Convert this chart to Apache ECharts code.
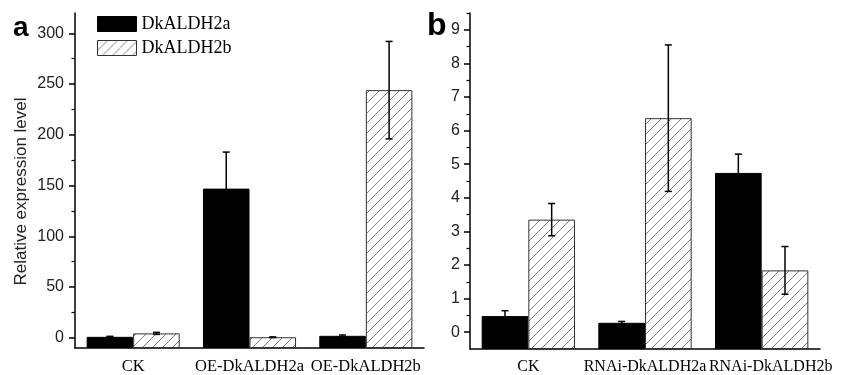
<!DOCTYPE html>
<html>
<head>
<meta charset="utf-8">
<script src="https://cdn.jsdelivr.net/npm/echarts@6/dist/echarts.min.js"></script>
<style>
  html, body { margin: 0; padding: 0; background: #fff; }
  #chart { width: 845px; height: 375px; }
</style>
</head>
<body>
<div id="chart"></div>
<script>
// panel a
const catsA = ["CK", "OE-DkALDH2a", "OE-DkALDH2b"];
const aVals = [1, 147, 2];
const aErr = [0.5, 36, 0.8];
const bValsA = [4.4, 0.6, 244];
const bErrA = [1, 0.3, 48];
const ticksA = [0, 50, 100, 150, 200, 250, 300];
const minorA = [25, 75, 125, 175, 225, 275];

// panel b
const catsB = ["CK", "RNAi-DkALDH2a", "RNAi-DkALDH2b"];
const aValsB = [0.48, 0.28, 4.74];
const aErrB = [0.16, 0.04, 0.56];
const bValsB = [3.35, 6.37, 1.84];
const bErrB = [0.48, 2.18, 0.71];
const ticksB = [0, 1, 2, 3, 4, 5, 6, 7, 8, 9];
const minorB = [0.5, 1.5, 2.5, 3.5, 4.5, 5.5, 6.5, 7.5, 8.5, 9.5];

const serif = "Liberation Serif";
const sans = "Liberation Sans";

function hatch() {
  const c = document.createElement("canvas");
  c.width = c.height = 10;
  const g = c.getContext("2d");
  g.fillStyle = "#fff";
  g.fillRect(0, 0, 10, 10);
  g.strokeStyle = "#808080";
  g.lineWidth = 1;
  g.beginPath();
  g.moveTo(0, 10); g.lineTo(10, 0);
  g.moveTo(-5, 5); g.lineTo(5, -5);
  g.moveTo(5, 15); g.lineTo(15, 5);
  g.stroke();
  return c;
}
const hatchFill = { image: hatch(), repeat: "repeat" };

function errData(vals, errs) {
  return vals.map((v, i) => [i, v, errs[i]]);
}

// offset = fraction of band width from category center
function errRender(offset) {
  return function (params, api) {
    const x = api.value(0), v = api.value(1), e = api.value(2);
    const hi = api.coord([x, v + e]);
    const lo = api.coord([x, v - e]);
    const bw = api.size([1, 0])[0];
    const cx = hi[0] + offset * bw;
    const st = { stroke: "#000", lineWidth: 1.5 };
    return {
      type: "group",
      children: [
        { type: "line", shape: { x1: cx, y1: hi[1], x2: cx, y2: lo[1] }, style: st },
        { type: "line", shape: { x1: cx - 3.5, y1: hi[1], x2: cx + 3.5, y2: hi[1] }, style: st },
        { type: "line", shape: { x1: cx - 3.5, y1: lo[1], x2: cx + 3.5, y2: lo[1] }, style: st },
      ],
    };
  };
}

function xAxes(cats, grid, fontSize, lastShift) {
  return [
    {
      type: "category", gridIndex: grid, data: cats, position: "bottom",
      axisLine: { onZero: false, lineStyle: { color: "#000", width: 1.5 } },
      axisTick: { length: 5, lineStyle: { color: "#000", width: 1.5 } },
      axisLabel: {
        color: "#000", fontFamily: serif, fontSize: fontSize, margin: 10, interval: 0,
        formatter: (v, i) => (i === cats.length - 1 && lastShift ? "{r|" + v + "}" : v),
        rich: { r: { fontFamily: serif, fontSize: fontSize, color: "#000", padding: [0, 0, 0, lastShift * 2] } },
      },
      splitLine: { show: false },
    },
    {
      type: "category", gridIndex: grid, data: cats, position: "bottom",
      axisLine: { show: false, onZero: false },
      axisTick: { alignWithLabel: true, length: 5, lineStyle: { color: "#000", width: 1.5 } },
      axisLabel: { show: false },
      splitLine: { show: false },
    },
  ];
}

function yAxes(min, max, ticks, minor, grid, margin) {
  return [
    {
      type: "value", gridIndex: grid, min: min, max: max, startValue: min, position: "left",
      axisLine: { show: true, lineStyle: { color: "#000", width: 1.5 } },
      axisTick: { show: true, length: 6, customValues: ticks, lineStyle: { color: "#000", width: 1.5 } },
      axisLabel: { customValues: ticks, color: "#222", fontFamily: sans, fontSize: 16, margin: margin },
      splitLine: { show: false },
    },
    {
      type: "value", gridIndex: grid, min: min, max: max, position: "left",
      axisLine: { show: false },
      axisTick: { show: true, length: 3.5, customValues: minor, lineStyle: { color: "#000", width: 1.2 } },
      axisLabel: { show: false },
      splitLine: { show: false },
    },
  ];
}

const yA = yAxes(-10, 320, ticksA, minorA, 0, 11);
yA[0].name = "Relative expression level";
yA[0].nameLocation = "middle";
yA[0].nameGap = 45;
yA[0].nameTextStyle = { fontFamily: sans, fontSize: 17, color: "#222", padding: [0, 22, 0, 0] };

const blackStyle = { color: "#000", borderColor: "#000", borderWidth: 1 };
const hatchStyle = { color: hatchFill, borderColor: "#333", borderWidth: 1 };

const chart = echarts.init(document.getElementById("chart"));
chart.setOption({
  animation: false,
  backgroundColor: "#fff",
  title: [
    { text: "a", left: 13, top: 14, padding: 0, textStyle: { fontFamily: sans, fontWeight: "bold", fontSize: 28, color: "#000" } },
    { text: "b", left: 427, top: 10, padding: 0, textStyle: { fontFamily: sans, fontWeight: "bold", fontSize: 32, color: "#000" } },
  ],
  legend: {
    left: 97, top: 15, orient: "vertical", padding: 0, itemGap: 6,
    itemWidth: 39, itemHeight: 15,
    textStyle: { fontFamily: serif, fontSize: 18, color: "#000" },
    data: [
      { name: "DkALDH2a", icon: "rect", itemStyle: blackStyle },
      { name: "DkALDH2b", icon: "rect", itemStyle: hatchStyle },
    ],
  },
  grid: [
    { left: 75, top: 13, width: 349, height: 336 },
    { left: 470, top: 13, width: 350, height: 336 },
  ],
  xAxis: [...xAxes(catsA, 0, 16.5, 0), ...xAxes(catsB, 1, 16, 9)],
  yAxis: [...yA, ...yAxes(-0.5, 9.5, ticksB, minorB, 1, 10)],
  series: [
    { name: "DkALDH2a", type: "bar", xAxisIndex: 0, yAxisIndex: 0, data: aVals, barGap: "0%", barCategoryGap: "20%", itemStyle: blackStyle },
    { name: "DkALDH2b", type: "bar", xAxisIndex: 0, yAxisIndex: 0, data: bValsA, itemStyle: hatchStyle },
    { name: "DkALDH2a", type: "bar", xAxisIndex: 2, yAxisIndex: 2, data: aValsB, barGap: "0%", barCategoryGap: "20%", itemStyle: blackStyle },
    { name: "DkALDH2b", type: "bar", xAxisIndex: 2, yAxisIndex: 2, data: bValsB, itemStyle: hatchStyle },
    { type: "custom", xAxisIndex: 0, yAxisIndex: 0, renderItem: errRender(-0.2), data: errData(aVals, aErr), encode: { x: 0, y: 1 }, z: 5, clip: false },
    { type: "custom", xAxisIndex: 0, yAxisIndex: 0, renderItem: errRender(0.2), data: errData(bValsA, bErrA), encode: { x: 0, y: 1 }, z: 5, clip: false },
    { type: "custom", xAxisIndex: 2, yAxisIndex: 2, renderItem: errRender(-0.2), data: errData(aValsB, aErrB), encode: { x: 0, y: 1 }, z: 5, clip: false },
    { type: "custom", xAxisIndex: 2, yAxisIndex: 2, renderItem: errRender(0.2), data: errData(bValsB, bErrB), encode: { x: 0, y: 1 }, z: 5, clip: false },
  ],
});
</script>
</body>
</html>
